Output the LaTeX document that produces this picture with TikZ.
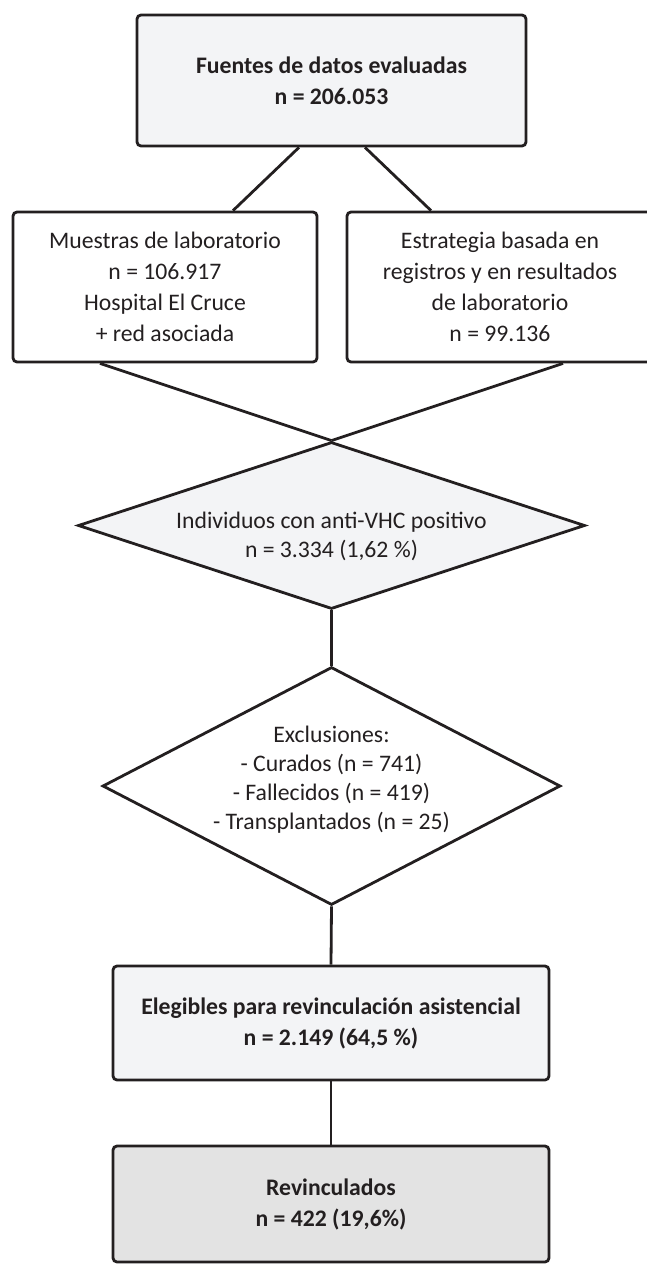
\documentclass[tikz,border=0pt]{standalone}
\usepackage{fontspec}
\setmainfont{Carlito}
\usepackage{xcolor}
\usepackage{tikz}
\usetikzlibrary{shapes.geometric}

\definecolor{ink}{HTML}{231F20}
\definecolor{palefill}{HTML}{F3F4F6}
\definecolor{darkfill}{HTML}{E3E3E3}

\begin{document}
\begin{tikzpicture}[x=1pt, y=-1pt,
    every node/.style={text=ink, align=center, inner sep=0pt},
    every label/.style={font=\fontsize{23.7}{29}\selectfont},
    txt/.style={font=\fontsize{23.7}{31}\selectfont},
    txtb/.style={font=\fontsize{23.7}{31}\selectfont\bfseries},
    box/.style={draw=ink, line width=2.8pt, rounded corners=4pt},
    diam/.style={diamond, draw=ink, line width=2.8pt},
    link/.style={draw=ink, line width=2.8pt}]
  \useasboundingbox (0,0) rectangle (646,1282);
  % sources
  \node[box, txtb, fill=palefill, minimum width=389pt, minimum height=131pt]
    (fuentes) at (331.5,80.5) {Fuentes de datos evaluadas\\n = 206.053};
  \node[box, txt, minimum width=304pt, minimum height=150pt]
    (muestras) at (165,287) {Muestras de laboratorio\\n = 106.917\\Hospital El Cruce\\+ red asociada};
  \node[box, txt, minimum width=306pt, minimum height=150pt]
    (estrategia) at (500,287) {Estrategia basada en\\registros y en resultados\\de laboratorio\\n = 99.136};
  % screening and exclusions
  \node[diam, fill=palefill, minimum width=507pt, minimum height=167pt,
    label={[yshift=-11pt]center:{Individuos con anti-VHC positivo\\n = 3.334 (1,62 \%)}}]
    (anti) at (331.5,525.5) {};
  \node[diam, minimum width=458pt, minimum height=238pt,
    label={[yshift=6pt]center:{Exclusiones:\\- Curados (n = 741)\\- Fallecidos (n = 419)\\- Transplantados (n = 25)}}]
    (excl) at (331.5,786) {};
  % outcome
  \node[box, txtb, fill=palefill, minimum width=436pt, minimum height=114pt]
    (elegibles) at (331,1023) {Elegibles para revinculación asistencial\\n = 2.149 (64,5 \%)};
  \node[box, txtb, fill=darkfill, minimum width=436pt, minimum height=116pt]
    (revinc) at (331,1204) {Revinculados\\n = 422 (19,6\%)};

  \draw[link] ([xshift=-32.5pt]fuentes.south) -- ([xshift=68pt]muestras.north);
  \draw[link] ([xshift=33.5pt]fuentes.south) -- ([xshift=-69pt]estrategia.north);
  \draw[link] ([xshift=-65pt]muestras.south) -- (anti.north);
  \draw[link] ([xshift=63pt]estrategia.south) -- (anti.north);
  \draw[link] (anti.south) -- (excl.north);
  \draw[link] (excl.south) -- (elegibles.north);
  \draw[link] (elegibles.south) -- (revinc.north);
\end{tikzpicture}
\end{document}
